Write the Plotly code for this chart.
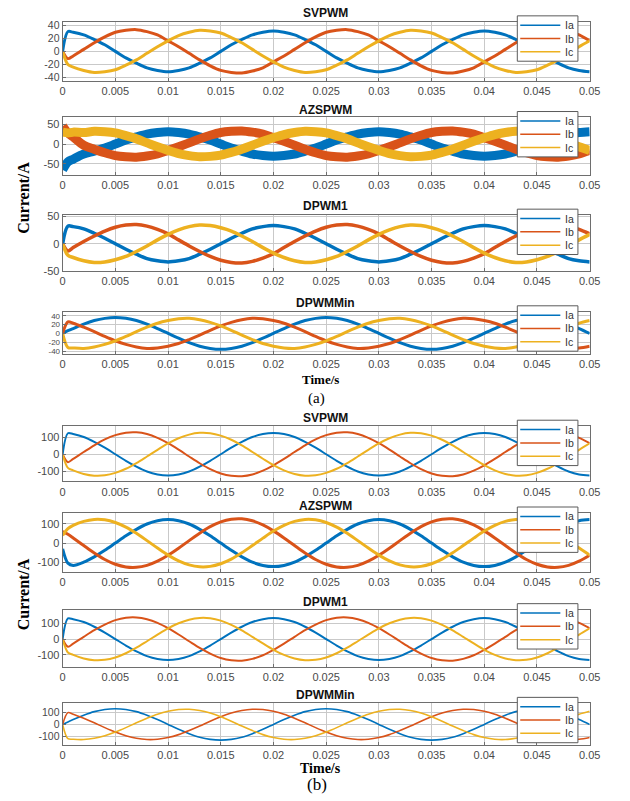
import plotly.graph_objects as go

# ---------------- data ----------------
TIME = [0, 0.0005] + [round(0.001 * i, 3) for i in range(1, 51)]
XTICKS = [0, 0.005, 0.01, 0.015, 0.02, 0.025, 0.03, 0.035, 0.04, 0.045, 0.05]
XTICKTEXT = ["0", "0.005", "0.01", "0.015", "0.02", "0.025", "0.03", "0.035", "0.04", "0.045", "0.05"]
SERIES_NAMES = ["Ia", "Ib", "Ic"]
PANEL_TITLES = ["SVPWM", "AZSPWM", "DPWM1", "DPWMMin", "SVPWM", "AZSPWM", "DPWM1", "DPWMMin"]

# (a) SVPWM
A_SV_IA = [0, 30, 29, 25, 18, 10, 0, -10, -18, -25, -29, -31, -29, -25, -18, -10, 0, 10, 18, 25, 29, 31,
           29, 25, 18, 10, 0, -10, -18, -25, -29, -31, -29, -25, -18, -10, 0, 10, 18, 25, 29, 31,
           29, 25, 18, 10, 0, -10, -18, -25, -29, -31]
A_SV_IB = [0, -11, -7, 3, 13, 22, 29, 32, 33, 30, 25, 16, 7, -3, -13, -22, -29, -32, -33, -30, -25, -16,
           -7, 3, 13, 22, 29, 32, 33, 30, 25, 16, 7, -3, -13, -22, -29, -32, -33, -30, -25, -16,
           -7, 3, 13, 22, 29, 32, 33, 30, 25, 16]
A_SV_IC = [0, -20, -24, -29, -32, -31, -28, -21, -13, -3, 7, 16, 24, 29, 32, 31, 28, 21, 13, 3, -7, -16,
           -24, -29, -32, -31, -28, -21, -13, -3, 7, 16, 24, 29, 32, 31, 28, 21, 13, 3, -7, -16,
           -24, -29, -32, -31, -28, -21, -13, -3, 7, 16]
# (a) AZSPWM
A_AZ_IA = [-65, -45, -38, -25, -18, -10, 0, 10, 18, 25, 29, 31, 29, 25, 18, 10, 0, -10, -18, -25, -29, -31,
           -29, -25, -18, -10, 0, 10, 18, 25, 29, 31, 29, 25, 18, 10, 0, -10, -18, -25, -29, -31,
           -29, -25, -18, -10, 0, 10, 18, 25, 29, 31]
A_AZ_IB = [45, 28, 18, -3, -13, -22, -29, -32, -33, -30, -25, -16, -7, 3, 13, 22, 29, 32, 33, 30, 25, 16,
           7, -3, -13, -22, -29, -32, -33, -30, -25, -16, -7, 3, 13, 22, 29, 32, 33, 30, 25, 16,
           7, -3, -13, -22, -29, -32, -33, -30, -25, -16]
A_AZ_IC = [30, 28, 30, 29, 32, 31, 28, 21, 13, 3, -7, -16, -24, -29, -32, -31, -28, -21, -13, -3, 7, 16,
           24, 29, 32, 31, 28, 21, 13, 3, -7, -16, -24, -29, -32, -31, -28, -21, -13, -3, 7, 16,
           24, 29, 32, 31, 28, 21, 13, 3, -7, -16]
# (a) DPWM1
A_D1_IA = [0, 32, 31, 27, 19, 10, 0, -10, -19, -27, -31, -33, -31, -27, -19, -10, 0, 10, 19, 27, 31, 33,
           31, 27, 19, 10, 0, -10, -19, -27, -31, -33, -31, -27, -19, -10, 0, 10, 19, 27, 31, 33,
           31, 27, 19, 10, 0, -10, -19, -27, -31, -33]
A_D1_IB = [0, -13, -7, 4, 14, 23, 30, 34, 35, 32, 26, 18, 7, -4, -14, -23, -30, -34, -35, -32, -26, -18,
           -7, 4, 14, 23, 30, 34, 35, 32, 26, 18, 7, -4, -14, -23, -30, -34, -35, -32, -26, -18,
           -7, 4, 14, 23, 30, 34, 35, 32, 26, 18]
A_D1_IC = [0, -21, -25, -31, -34, -33, -29, -23, -14, -4, 7, 17, 25, 31, 34, 33, 29, 23, 14, 4, -7, -17,
           -25, -31, -34, -33, -29, -23, -14, -4, 7, 17, 25, 31, 34, 33, 29, 23, 14, 4, -7, -17,
           -25, -31, -34, -33, -29, -23, -14, -4, 7, 17]
# (a) DPWMMin
A_DM_IA = [0, 6, 11, 21, 29, 34, 36, 34, 29, 21, 11, 0, -11, -21, -29, -34, -36, -34, -29, -21, -11, 0,
           11, 21, 29, 34, 36, 34, 29, 21, 11, 0, -11, -21, -29, -34, -36, -34, -29, -21, -11, 0,
           11, 21, 29, 34, 36, 34, 29, 21, 11, 0]
A_DM_IB = [0, 26, 23, 14, 4, -7, -17, -25, -31, -34, -33, -29, -23, -14, -4, 7, 17, 25, 31, 34, 33, 29,
           23, 14, 4, -7, -17, -25, -31, -34, -33, -29, -23, -14, -4, 7, 17, 25, 31, 34, 33, 29,
           23, 14, 4, -7, -17, -25, -31, -34, -33, -29]
A_DM_IC = [0, -32, -33, -34, -31, -25, -17, -7, 4, 14, 23, 29, 33, 34, 31, 25, 17, 7, -4, -14, -23, -29,
           -33, -34, -31, -25, -17, -7, 4, 14, 23, 29, 33, 34, 31, 25, 17, 7, -4, -14, -23, -29,
           -33, -34, -31, -25, -17, -7, 4, 14, 23, 29]
# (b) SVPWM
B_SV_IA = [0, 122, 117, 100, 72, 38, 0, -38, -72, -100, -117, -123, -117, -100, -72, -38, 0, 38, 72, 100, 117, 123,
           117, 100, 72, 38, 0, -38, -72, -100, -117, -123, -117, -100, -72, -38, 0, 38, 72, 100, 117, 123,
           117, 100, 72, 38, 0, -38, -72, -100, -117, -123]
B_SV_IB = [0, -46, -27, 13, 52, 86, 111, 125, 127, 117, 95, 64, 27, -13, -52, -86, -111, -125, -127, -117, -95, -64,
           -27, 13, 52, 86, 111, 125, 127, 117, 95, 64, 27, -13, -52, -86, -111, -125, -127, -117, -95, -64,
           -27, 13, 52, 86, 111, 125, 127, 117, 95, 64]
B_SV_IC = [0, -79, -93, -114, -124, -122, -108, -84, -51, -13, 26, 63, 93, 114, 124, 122, 108, 84, 51, 13, -26, -63,
           -93, -114, -124, -122, -108, -84, -51, -13, 26, 63, 93, 114, 124, 122, 108, 84, 51, 13, -26, -63,
           -93, -114, -124, -122, -108, -84, -51, -13, 26, 63]
# (b) AZSPWM
B_AZ_IA = [-30, -105, -117, -100, -72, -38, 0, 38, 72, 100, 117, 123, 117, 100, 72, 38, 0, -38, -72, -100, -117, -123,
           -117, -100, -72, -38, 0, 38, 72, 100, 117, 123, 117, 100, 72, 38, 0, -38, -72, -100, -117, -123,
           -117, -100, -72, -38, 0, 38, 72, 100, 117, 123]
B_AZ_IB = [60, 46, 27, -13, -52, -86, -111, -125, -127, -117, -95, -64, -27, 13, 52, 86, 111, 125, 127, 117, 95, 64,
           27, -13, -52, -86, -111, -125, -127, -117, -95, -64, -27, 13, 52, 86, 111, 125, 127, 117, 95, 64,
           27, -13, -52, -86, -111, -125, -127, -117, -95, -64]
B_AZ_IC = [40, 76, 93, 114, 124, 122, 108, 84, 51, 13, -26, -63, -93, -114, -124, -122, -108, -84, -51, -13, 26, 63,
           93, 114, 124, 122, 108, 84, 51, 13, -26, -63, -93, -114, -124, -122, -108, -84, -51, -13, 26, 63,
           93, 114, 124, 122, 108, 84, 51, 13, -26, -63]
# (b) DPWM1
B_D1_IA = [0, 131, 126, 108, 78, 41, 0, -41, -78, -108, -126, -133, -126, -108, -78, -41, 0, 41, 78, 108, 126, 133,
           126, 108, 78, 41, 0, -41, -78, -108, -126, -133, -126, -108, -78, -41, 0, 41, 78, 108, 126, 133,
           126, 108, 78, 41, 0, -41, -78, -108, -126, -133]
B_D1_IB = [0, -49, -29, 14, 56, 92, 120, 135, 137, 126, 103, 69, 29, -14, -56, -92, -120, -135, -137, -126, -103, -69,
           -29, 14, 56, 92, 120, 135, 137, 126, 103, 69, 29, -14, -56, -92, -120, -135, -137, -126, -103, -69,
           -29, 14, 56, 92, 120, 135, 137, 126, 103, 69]
B_D1_IC = [0, -85, -100, -123, -134, -132, -117, -90, -55, -14, 28, 68, 100, 123, 134, 132, 117, 90, 55, 14, -28, -68,
           -100, -123, -134, -132, -117, -90, -55, -14, 28, 68, 100, 123, 134, 132, 117, 90, 55, 14, -28, -68,
           -100, -123, -134, -132, -117, -90, -55, -14, 28, 68]
# (b) DPWMMin
B_DM_IA = [0, 20, 40, 75, 104, 122, 128, 122, 104, 75, 40, 0, -40, -75, -104, -122, -128, -122, -104, -75, -40, 0,
           40, 75, 104, 122, 128, 122, 104, 75, 40, 0, -40, -75, -104, -122, -128, -122, -104, -75, -40, 0,
           40, 75, 104, 122, 128, 122, 104, 75, 40, 0]
B_DM_IB = [0, 96, 83, 50, 13, -26, -62, -92, -113, -123, -121, -107, -83, -50, -13, 26, 62, 92, 113, 123, 121, 107,
           83, 50, 13, -26, -62, -92, -113, -123, -121, -107, -83, -50, -13, 26, 62, 92, 113, 123, 121, 107,
           83, 50, 13, -26, -62, -92, -113, -123, -121, -107]
B_DM_IC = [0, -116, -121, -123, -113, -92, -62, -26, 13, 50, 83, 107, 121, 123, 113, 92, 62, 26, -13, -50, -83, -107,
           -121, -123, -113, -92, -62, -26, 13, 50, 83, 107, 121, 123, 113, 92, 62, 26, -13, -50, -83, -107,
           -121, -123, -113, -92, -62, -26, 13, 50, 83, 107]

DATA = [
    (A_SV_IA, A_SV_IB, A_SV_IC), (A_AZ_IA, A_AZ_IB, A_AZ_IC),
    (A_D1_IA, A_D1_IB, A_D1_IC), (A_DM_IA, A_DM_IB, A_DM_IC),
    (B_SV_IA, B_SV_IB, B_SV_IC), (B_AZ_IA, B_AZ_IB, B_AZ_IC),
    (B_D1_IA, B_D1_IB, B_D1_IC), (B_DM_IA, B_DM_IB, B_DM_IC),
]
Y_TICKS = [
    [-40, -20, 0, 20, 40], [-50, 0, 50], [-50, 0, 50], [-40, -20, 0, 20, 40],
    [-100, 0, 100], [-100, 0, 100], [-100, 0, 100], [-100, 0, 100],
]

# ---------------- layout / style ----------------
W, H = 630, 801
COLORS = ["#0072BD", "#D95319", "#EDB120"]
Y_RANGES = [[-45, 45], [-77, 67], [-50, 52], [-47, 49],
            [-157, 163], [-152, 158], [-176, 187], [-165, 172]]
PLOT_TOP = [17, 114, 213, 311, 427, 515, 613, 708]
PLOT_BOT = [77, 172, 270, 354, 483, 575, 671, 750]
TITLE_Y = [8, 106, 204, 302, 419, 508, 605, 700]
LINE_W = [3, 9, 3.5, 3, 2, 3, 2, 1.6]
YTICK_SIZE = [10.5, 11, 11, 8, 11, 11, 11, 10.5]
X0_PX, X1_PX = 61, 600


def px_x(p):
    return p / W


def px_y(p):
    return 1 - p / H


fig = go.Figure()
layout = {}
shapes = []
annotations = []
for i, (series, yr, yt) in enumerate(zip(DATA, Y_RANGES, Y_TICKS), start=1):
    xa = "x" if i == 1 else f"x{i}"
    ya = "y" if i == 1 else f"y{i}"
    for s, name, col in zip(series, SERIES_NAMES, COLORS):
        fig.add_trace(go.Scatter(
            x=TIME, y=s, mode="lines", name=name, xaxis=xa, yaxis=ya,
            line=dict(color=col, width=LINE_W[i - 1], shape="spline", smoothing=0.9),
            showlegend=False, hoverinfo="skip"))
    axis_common = dict(
        showline=True, linecolor="#6e6e6e", linewidth=1, mirror=True,
        showgrid=True, gridcolor="#c9c9c9", gridwidth=1, zeroline=False,
        ticks="inside", ticklen=3, tickcolor="#6e6e6e",
    )
    layout["xaxis" if i == 1 else f"xaxis{i}"] = dict(
        domain=[px_x(X0_PX), px_x(X1_PX)], anchor=ya, range=[0, 0.05],
        tickvals=XTICKS, ticktext=XTICKTEXT,
        tickfont=dict(family="Liberation Sans, Arial", size=11, color="#4a4a4a"),
        **axis_common)
    layout["yaxis" if i == 1 else f"yaxis{i}"] = dict(
        domain=[px_y(PLOT_BOT[i - 1]), px_y(PLOT_TOP[i - 1])], anchor=xa, range=yr,
        tickvals=yt, ticktext=[str(v) for v in yt],
        tickfont=dict(family="Liberation Sans, Arial", size=YTICK_SIZE[i - 1], color="#4a4a4a"),
        **axis_common)

    # panel title
    annotations.append(dict(
        text=f"<b>{PANEL_TITLES[i - 1]}</b>", x=px_x(330), y=px_y(TITLE_Y[i - 1]),
        xref="paper", yref="paper", xanchor="center", yanchor="middle", showarrow=False,
        font=dict(family="Liberation Sans, Arial", size=12, color="#111")))

    # legend box (drawn manually to match the compact MATLAB legend)
    top = PLOT_TOP[i - 1] - 6
    lx0, lx1 = 526, 588
    shapes.append(dict(type="rect", xref="paper", yref="paper",
                       x0=px_x(lx0), x1=px_x(lx1), y0=px_y(top + 46), y1=px_y(top),
                       fillcolor="white", line=dict(color="#5a5a5a", width=1), layer="above"))
    for j, (name, col) in enumerate(zip(SERIES_NAMES, COLORS)):
        yy = top + 9.5 + 13.5 * j
        shapes.append(dict(type="line", xref="paper", yref="paper",
                           x0=px_x(529), x1=px_x(570), y0=px_y(yy), y1=px_y(yy),
                           line=dict(color=col, width=1.5), layer="above"))
        annotations.append(dict(
            text=name, x=px_x(573), y=px_y(yy), xref="paper", yref="paper",
            xanchor="left", yanchor="middle", showarrow=False,
            font=dict(family="Liberation Sans, Arial", size=10.5, color="#333")))

# global labels
for txt, x, y, size, rot in [
    ("<b>Current/A</b>", 21, 196, 16, -90),
    ("<b>Current/A</b>", 21, 598, 16, -90),
    ("<b>Time/s</b>", 325, 380, 13, 0),
    ("<b>Time/s</b>", 325, 774, 14, 0),
    ("(a)", 321, 399, 15, 0),
    ("(b)", 321, 790, 17, 0),
]:
    annotations.append(dict(
        text=txt, x=px_x(x), y=px_y(y), xref="paper", yref="paper",
        xanchor="center", yanchor="middle", showarrow=False, textangle=rot,
        font=dict(family="Liberation Serif, Times New Roman", size=size, color="#000")))

fig.update_layout(
    width=W, height=H, margin=dict(l=0, r=0, t=0, b=0),
    paper_bgcolor="white", plot_bgcolor="white",
    shapes=shapes, annotations=annotations, **layout)

fig.write_html("out.html")
